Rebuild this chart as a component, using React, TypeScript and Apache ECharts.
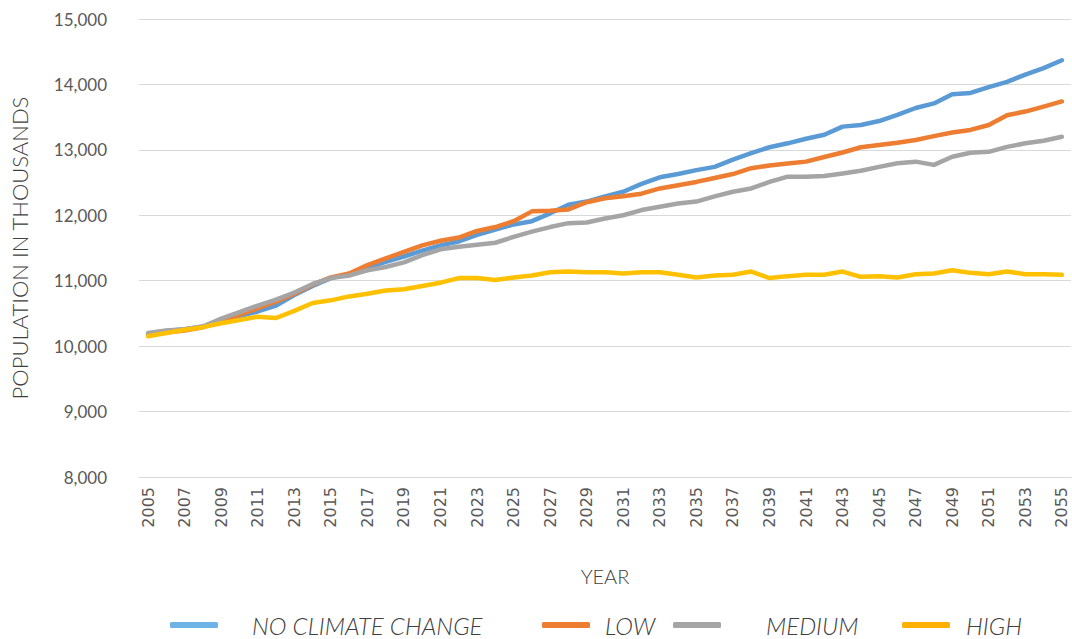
import React, { useEffect, useRef } from "react";
import * as echarts from "echarts";

const years: string[] = [];
for (let y = 2005; y <= 2055; y++) years.push(String(y));

const noClimateChange = [
  10190, 10230, 10260, 10300, 10400, 10460, 10530, 10620, 10780, 10920,
  11040, 11100, 11200, 11290, 11370, 11460, 11540, 11600, 11700, 11780,
  11860, 11910, 12030, 12160, 12210, 12290, 12360, 12480, 12580, 12630,
  12690, 12740, 12850, 12950, 13040, 13100, 13170, 13230, 13355, 13380,
  13440, 13535, 13640, 13710, 13850, 13870, 13960, 14040, 14150, 14250,
  14370,
];
const low = [
  10180, 10210, 10240, 10290, 10380, 10480, 10580, 10680, 10800, 10940,
  11050, 11110, 11240, 11340, 11440, 11540, 11610, 11660, 11760, 11820,
  11910, 12060, 12070, 12090, 12200, 12260, 12290, 12330, 12410, 12460,
  12510, 12570, 12630, 12720, 12760, 12790, 12820, 12890, 12960, 13040,
  13075, 13110, 13150, 13210, 13265, 13305, 13380, 13530, 13585, 13660,
  13740,
];
const medium = [
  10200, 10240, 10260, 10300, 10420, 10520, 10620, 10710, 10820, 10950,
  11040, 11080, 11160, 11210, 11280, 11390, 11480, 11520, 11550, 11580,
  11670, 11750, 11820, 11880, 11890, 11950, 12000, 12080, 12130, 12180,
  12210, 12290, 12360, 12410, 12510, 12590, 12590, 12600, 12640, 12680,
  12740, 12795, 12820, 12770, 12895, 12955, 12970, 13045, 13100, 13140,
  13200,
];
const high = [
  10150, 10200, 10250, 10290, 10350, 10400, 10450, 10430, 10540, 10660,
  10700, 10760, 10800, 10850, 10870, 10920, 10970, 11040, 11040, 11010,
  11050, 11080, 11130, 11140, 11130, 11130, 11110, 11130, 11130, 11090,
  11050, 11080, 11090, 11140, 11040, 11070, 11090, 11090, 11140, 11060,
  11070, 11050, 11100, 11110, 11160, 11120, 11100, 11140, 11100, 11100,
  11090,
];

const seriesNames = ["NO CLIMATE CHANGE", "LOW", "MEDIUM", "HIGH"];
const seriesColors = ["#5B9BD5", "#ED7D31", "#A5A5A5", "#FFC000"];
const legendColors = ["#6DB3E6", "#ED7D31", "#A5A5A5", "#FFB000"];
const seriesData = [noClimateChange, low, medium, high];

export default function App() {
  const ref = useRef<HTMLDivElement>(null);
  useEffect(() => {
    if (!ref.current) return;
    const chart = echarts.init(ref.current, null, { renderer: "svg" });
    const legendLefts = [165, 537, 668, 897];
    const legendPads = [29, 10, 40, 11];
    chart.setOption({
      animation: false,
      backgroundColor: "#ffffff",
      grid: { left: 139, right: 1, top: 19, bottom: 162, containLabel: false },
      xAxis: {
        type: "category",
        data: years,
        boundaryGap: true,
        name: "YEAR",
        nameLocation: "middle",
        nameGap: 89,
        nameTextStyle: { fontFamily: "Lato", fontWeight: 300, fontSize: 20, color: "#404040" },
        axisLine: { show: true, lineStyle: { color: "#D9D9D9", width: 1 } },
        axisTick: { show: false },
        axisLabel: {
          interval: 1,
          rotate: 90,
          margin: 10,
          fontFamily: "DejaVu Sans",
          fontSize: 16,
          color: "#595959",
        },
      },
      yAxis: {
        type: "value",
        min: 8000,
        max: 15000,
        interval: 1000,
        name: "POPULATION IN THOUSANDS",
        nameLocation: "middle",
        nameGap: 109,
        nameTextStyle: { fontFamily: "Lato", fontWeight: 300, fontSize: 22, color: "#404040" },
        axisLine: { show: false },
        axisTick: { show: false },
        splitLine: { lineStyle: { color: "#D9D9D9", width: 1 } },
        axisLabel: {
          margin: 32,
          fontFamily: "Lato",
          fontSize: 17,
          color: "#595959",
          formatter: (v: number) => v.toLocaleString("en-US"),
        },
      },
      legend: seriesNames.map((n, i) => ({
        data: [{ name: n, itemStyle: { color: legendColors[i] } }],
        left: legendLefts[i],
        top: 608,
        icon: "roundRect",
        itemWidth: 48,
        itemHeight: 6,
        textStyle: {
          fontFamily: "Lato",
          fontStyle: "italic",
          fontWeight: 300,
          fontSize: 24,
          color: "#404040",
          padding: [0, 0, 0, legendPads[i]],
        },
      })),
      series: seriesNames.map((n, i) => ({
        name: n,
        type: "line",
        data: seriesData[i],
        showSymbol: false,
        symbol: "none",
        smooth: false,
        lineStyle: { color: seriesColors[i], width: 4.5, cap: "round", join: "round" },
        itemStyle: { color: seriesColors[i] },
      })),
    });
    return () => chart.dispose();
  }, []);
  return (
    <div
      ref={ref}
      style={{ position: "fixed", left: 0, top: 0, width: 1072, height: 639 }}
    />
  );
}
